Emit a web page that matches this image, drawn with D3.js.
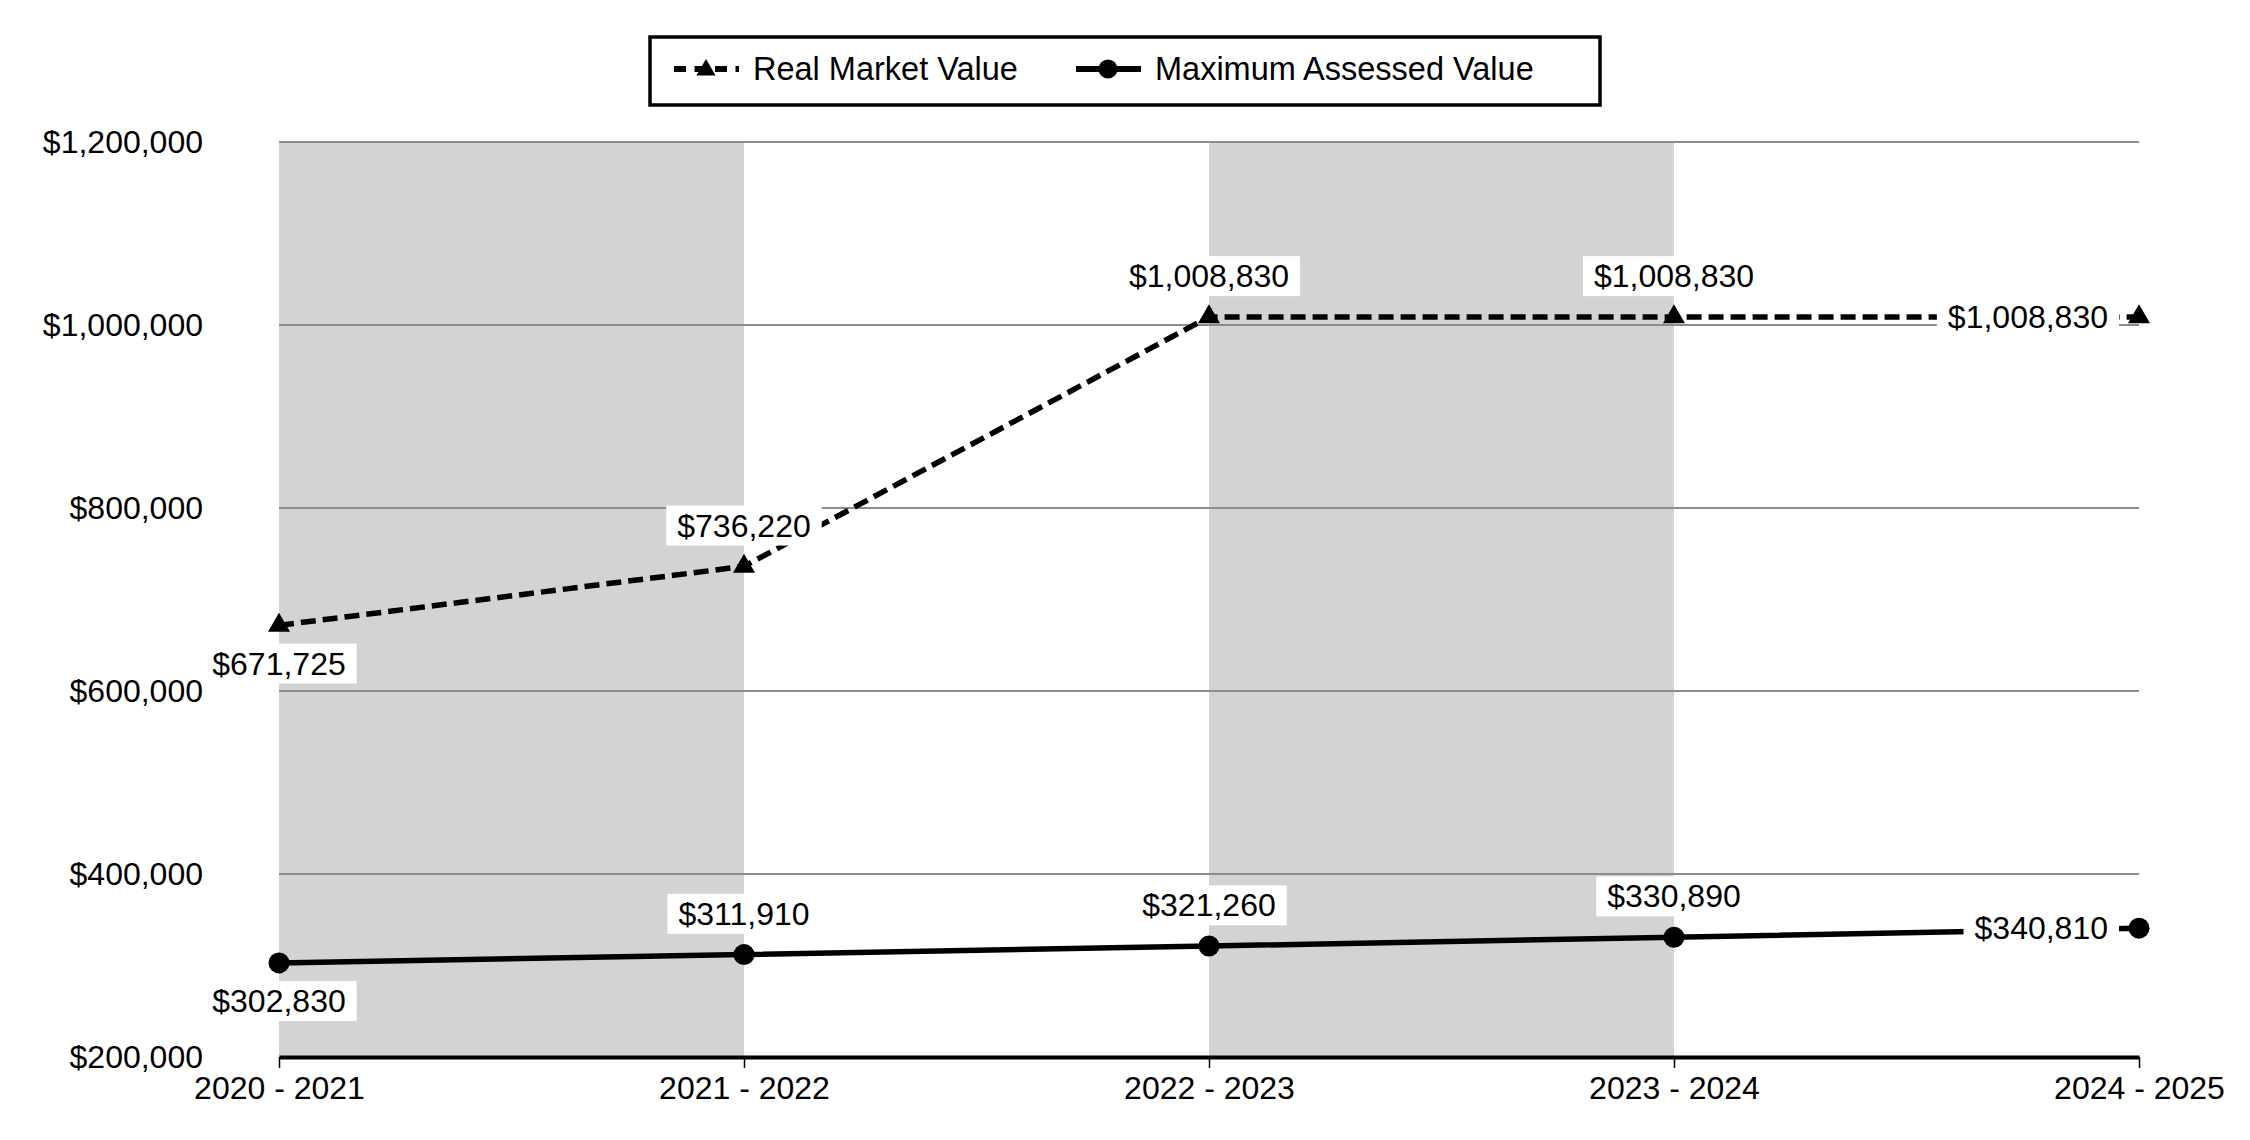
<!DOCTYPE html>
<html>
<head>
<meta charset="utf-8">
<script src="https://cdn.jsdelivr.net/npm/d3@7"></script>
<style>
body { margin: 0; background: #fff; }
text { font-family: "Liberation Sans", Arial, sans-serif; fill: #000; }
</style>
</head>
<body>
<div id="chart"></div>
<script>
// chart values
var years = ["2020 - 2021", "2021 - 2022", "2022 - 2023", "2023 - 2024", "2024 - 2025"];
var realMarket = [671725, 736220, 1008830, 1008830, 1008830];
var maxAssessed = [302830, 311910, 321260, 330890, 340810];
var yTicks = [200000, 400000, 600000, 800000, 1000000, 1200000];

var width = 2250, height = 1140;
var money = d3.format("$,");

var svg = d3.select("#chart").append("svg").attr("width", width).attr("height", height);

var x = d3.scalePoint().domain(years).range([279, 2139]);
var y = d3.scaleLinear().domain([200000, 1200000]).range([1057, 142]);

// alternating grey bands
var bands = years.slice(0, -1).filter((d, i) => i % 2 == 0);
svg.selectAll(".band").data(bands).enter().append("rect")
	.attr("class", "band")
	.attr("x", d => x(d))
	.attr("width", d => x(years[years.indexOf(d) + 1]) - x(d))
	.attr("y", y(1200000))
	.attr("height", y(200000) - y(1200000))
	.attr("fill", "#d3d3d3");

// gridlines
svg.selectAll(".grid").data(yTicks.slice(1)).enter().append("line")
	.attr("class", "grid")
	.attr("x1", x.range()[0]).attr("x2", x.range()[1])
	.attr("y1", d => y(d)).attr("y2", d => y(d))
	.attr("stroke", "#8c8c8c").attr("stroke-width", 2);

// y axis labels
var yAxis = svg.append("g").attr("transform", "translate(203,0)")
	.call(d3.axisLeft(y).tickValues(yTicks).tickSize(0).tickPadding(0).tickFormat(money));
yAxis.select(".domain").remove();
yAxis.selectAll("text").attr("font-size", 32).attr("font-family", null);

// x axis
var xAxis = svg.append("g").attr("transform", "translate(0," + y(200000) + ")")
	.call(d3.axisBottom(x).tickSize(11).tickSizeOuter(0).tickPadding(8));
xAxis.select(".domain").attr("stroke", "#000").attr("stroke-width", 4);
xAxis.selectAll(".tick line").attr("stroke", "#000").attr("stroke-width", 1.5);
xAxis.selectAll("text").attr("font-size", 32).attr("font-family", null);

var line = d3.line().x((d, i) => x(years[i])).y(d => y(d));

svg.append("path").datum(realMarket)
	.attr("d", line).attr("fill", "none")
	.attr("stroke", "#000").attr("stroke-width", 5.5)
	.attr("stroke-dasharray", "15,7");

svg.append("path").datum(maxAssessed)
	.attr("d", line).attr("fill", "none")
	.attr("stroke", "#000").attr("stroke-width", 5.5);

// data labels with white boxes
function addLabels(values) {
	var last = values.length - 1;
	values.forEach(function(v, i) {
		var px = x(years[i]), py = y(v);
		var g = svg.append("g");
		var t = g.append("text").attr("font-size", 32).attr("dy", "0.35em").text(money(v));
		if (i == 0) {
			t.attr("x", px).attr("y", py + 38).attr("text-anchor", "middle");
		} else if (i == last) {
			t.attr("x", px - 31).attr("y", py).attr("text-anchor", "end");
		} else {
			t.attr("x", px).attr("y", py - 41).attr("text-anchor", "middle");
		}
		var b = t.node().getBBox();
		g.insert("rect", "text")
			.attr("x", b.x - 11).attr("width", b.width + 22)
			.attr("y", b.y + b.height / 2 - 20).attr("height", 40)
			.attr("fill", "#fff");
	});
}
addLabels(realMarket);
addLabels(maxAssessed);

// markers
svg.selectAll(".tri").data(realMarket).enter().append("path")
	.attr("d", d3.symbol(d3.symbolTriangle).size(210))
	.attr("transform", (d, i) => "translate(" + x(years[i]) + "," + y(d) + ")")
	.attr("fill", "#000");

svg.selectAll(".dot").data(maxAssessed).enter().append("circle")
	.attr("cx", (d, i) => x(years[i])).attr("cy", d => y(d)).attr("r", 10.5)
	.attr("fill", "#000");

// legend
var lg = svg.append("g");
lg.append("rect").attr("x", 650).attr("y", 37).attr("width", 950).attr("height", 68)
	.attr("fill", "#fff").attr("stroke", "#000").attr("stroke-width", 3.5);
lg.append("line").attr("x1", 674).attr("x2", 739).attr("y1", 69).attr("y2", 69)
	.attr("stroke", "#000").attr("stroke-width", 6).attr("stroke-dasharray", "12,8.5");
lg.append("path").attr("d", d3.symbol(d3.symbolTriangle).size(160))
	.attr("transform", "translate(706,70)").attr("fill", "#000");
lg.append("text").attr("x", 753).attr("y", 69).attr("dy", "0.35em").attr("font-size", 32.5).text("Real Market Value");
lg.append("line").attr("x1", 1076).attr("x2", 1141).attr("y1", 69).attr("y2", 69)
	.attr("stroke", "#000").attr("stroke-width", 6);
lg.append("circle").attr("cx", 1108).attr("cy", 69).attr("r", 9.5).attr("fill", "#000");
lg.append("text").attr("x", 1155).attr("y", 69).attr("dy", "0.35em").attr("font-size", 32.5).text("Maximum Assessed Value");
</script>
</body>
</html>
